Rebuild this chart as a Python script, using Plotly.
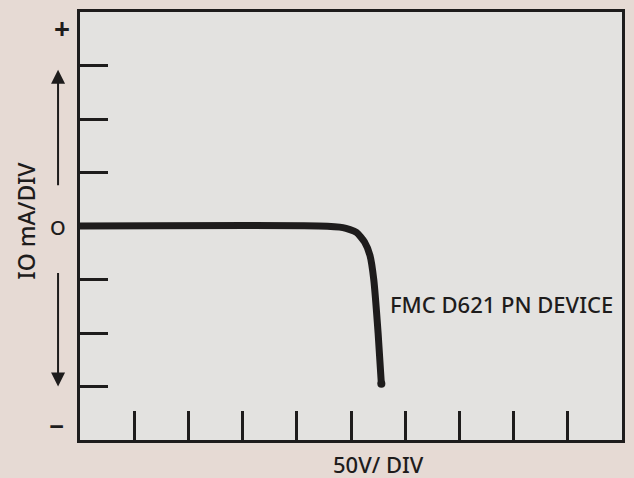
import plotly.graph_objects as go

# I-V trace of the device, in divisions (x: 50 V/div, y: 10 mA/div)
volts_div = [0.0, 4.4, 4.85, 5.1, 5.25, 5.35, 5.42, 5.5, 5.56]
amps_div = [0.0, 0.0, -0.03, -0.12, -0.3, -0.55, -1.0, -2.0, -2.95]

x_ticks = [1, 2, 3, 4, 5, 6, 7, 8, 9]
y_ticks = [-3, -2, -1, 1, 2, 3]

ink = "#1e1c1c"
font = "Noto Sans"

fig = go.Figure()
fig.add_trace(go.Scatter(
    x=volts_div, y=amps_div, mode="lines",
    line=dict(color=ink, width=7, shape="spline", smoothing=0.6),
    hoverinfo="skip",
))
# round end of the trace
fig.add_trace(go.Scatter(
    x=volts_div[-1:], y=amps_div[-1:], mode="markers",
    marker=dict(color=ink, size=8), hoverinfo="skip",
))

fig.update_xaxes(
    range=[0, 10], tickvals=x_ticks, ticks="inside", ticklen=29, tickwidth=3,
    tickcolor=ink, showticklabels=False, showgrid=False, zeroline=False,
    showline=True, linewidth=3, linecolor=ink, mirror=True,
)
fig.update_yaxes(
    range=[-4, 4], tickvals=y_ticks, ticks="inside", ticklen=28, tickwidth=3,
    tickcolor=ink, showticklabels=False, showgrid=False, zeroline=False,
    showline=True, linewidth=3, linecolor=ink, mirror=True,
)

def label(text, x, y, size, xref="paper", yref="y", weight=500, xanchor="center", **kw):
    fig.add_annotation(text=text, xref=xref, yref=yref, x=x, y=y, showarrow=False,
                       xanchor=xanchor, yanchor="middle",
                       font=dict(family=font, size=size, color=ink, weight=weight), **kw)

label("+", -0.033, 3.7, 28, weight=700)
label("O", -0.04, -0.03, 20)
label("\u2212", -0.043, -3.74, 26, weight=700)

# up / down arrows beside the current axis
fig.add_annotation(xref="paper", yref="y", x=-0.0405, y=2.92, ax=0, ay=117,
                   text="", showarrow=True, arrowhead=2, arrowsize=1.4,
                   arrowwidth=2, arrowcolor=ink)
fig.add_annotation(xref="paper", yref="y", x=-0.0405, y=-3.0, ax=0, ay=-115,
                   text="", showarrow=True, arrowhead=2, arrowsize=1.4,
                   arrowwidth=2, arrowcolor=ink)

label("IO mA/DIV", -0.1, 0.1, 23, textangle=-90)
label("50V/ DIV", 0.55, -0.057, 22, yref="paper")
label("FMC D621 PN DEVICE", 5.69, -1.45, 22, xref="x", xanchor="left")

fig.update_layout(
    width=634, height=478,
    margin=dict(l=80, r=9, t=9, b=38),
    paper_bgcolor="#e6dad4",
    plot_bgcolor="#e3e2e0",
    showlegend=False,
)

fig.write_html("out.html", config={"displayModeBar": False},
               post_script="document.body.style.margin='0';")
